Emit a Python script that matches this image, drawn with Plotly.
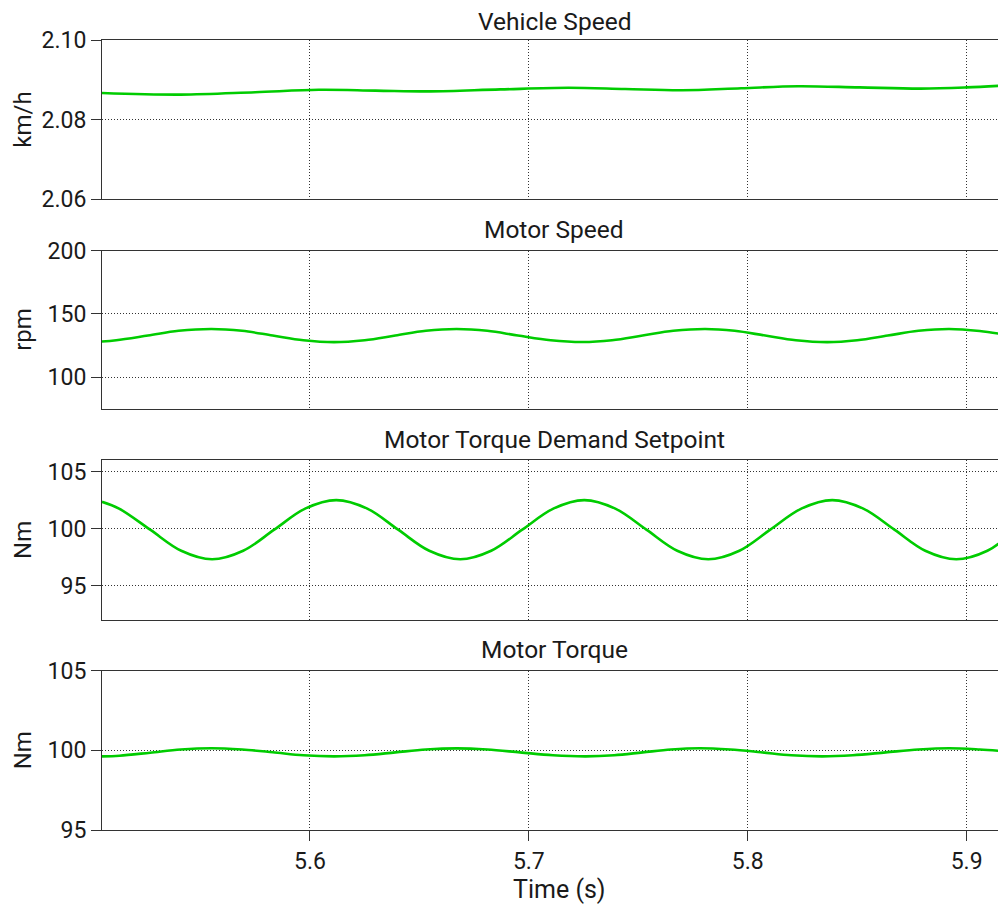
import plotly.graph_objects as go

# ---- data ----
vs_t = [5.505, 5.541, 5.575, 5.604, 5.630, 5.655, 5.687, 5.718, 5.744, 5.770, 5.797, 5.823, 5.851, 5.879, 5.900, 5.918]
vs_v = [2.0867, 2.0863, 2.0869, 2.0875, 2.0873, 2.0871, 2.0876, 2.0880, 2.0877, 2.0874, 2.0879, 2.0884, 2.0881, 2.0878, 2.0881, 2.0886]

ms_t = [5.505, 5.5115, 5.526, 5.540, 5.555, 5.569, 5.583, 5.597, 5.611, 5.625, 5.639, 5.653, 5.667,
        5.681, 5.695, 5.710, 5.7245, 5.738, 5.752, 5.766, 5.7806, 5.794, 5.808, 5.822, 5.8364,
        5.850, 5.864, 5.878, 5.892, 5.906, 5.918]
ms_v = [128.3, 129.3, 133.0, 136.7, 138.2, 136.7, 133.0, 129.3, 127.8, 129.3, 133.0, 136.7, 138.1,
        136.7, 133.0, 129.3, 127.9, 129.3, 133.0, 136.7, 138.2, 136.7, 133.0, 129.3, 127.8,
        129.3, 133.0, 136.7, 138.2, 136.6, 133.6]

td_t = [5.505, 5.5128, 5.5270, 5.5412, 5.5553, 5.5695, 5.5837, 5.5978, 5.6120, 5.6262, 5.6403,
        5.6545, 5.6687, 5.6828, 5.6970, 5.7112, 5.7253, 5.7395, 5.7537, 5.7678, 5.7820, 5.7962,
        5.8103, 5.8245, 5.8386, 5.8528, 5.8670, 5.8811, 5.8953, 5.9095, 5.918]
td_v = [102.35, 101.75, 99.9, 98.05, 97.3, 98.05, 99.9, 101.75, 102.5, 101.75, 99.9,
        98.05, 97.3, 98.05, 99.9, 101.75, 102.5, 101.75, 99.9, 98.05, 97.3, 98.05,
        99.9, 101.75, 102.5, 101.75, 99.9, 98.05, 97.3, 98.05, 99.2]

mt_t = [5.505, 5.513, 5.527, 5.541, 5.555, 5.569, 5.583, 5.597, 5.611, 5.625, 5.639, 5.653, 5.667,
        5.681, 5.696, 5.711, 5.726, 5.739, 5.752, 5.765, 5.778, 5.792, 5.806, 5.820, 5.834,
        5.848, 5.863, 5.878, 5.892, 5.906, 5.918]
mt_v = [99.62, 99.66, 99.85, 100.05, 100.13, 100.05, 99.88, 99.69, 99.62, 99.69, 99.87, 100.05, 100.12,
        100.05, 99.87, 99.69, 99.62, 99.69, 99.87, 100.05, 100.13, 100.05, 99.88, 99.69, 99.62,
        99.69, 99.87, 100.05, 100.13, 100.05, 99.93]

titles = ["Vehicle Speed", "Motor Speed", "Motor Torque Demand Setpoint", "Motor Torque"]
units = ["km/h", "rpm", "Nm", "Nm"]
y_ranges = [[2.06, 2.10], [75, 200], [92, 106], [95, 105]]
y_ticks = [[2.06, 2.08, 2.10], [100, 150, 200], [95, 100, 105], [95, 100, 105]]
y_ticktext = [["2.06", "2.08", "2.10"], ["100", "150", "200"], ["95", "100", "105"], ["95", "100", "105"]]
x_ticks = [5.6, 5.7, 5.8, 5.9]
x_range = [5.505, 5.918]
x_title = "Time (s)"

# ---- layout geometry (figure pixels) ----
W, H = 1006, 908
L, R = 94, 8
T = 32
px_domains = [(32, 191.5), (242.7, 401.3), (452.5, 612), (663, 822.5)]
B = H - px_domains[-1][1]
PH = H - T - B
PW = W - L - R
FONT = "Roboto, DejaVu Sans, sans-serif"
TXT = "#1a1a1a"
GREEN = "#00cc00"
GRID = "#333333"


def py(p):
    return 1 - (p - T) / PH


series = [(vs_t, vs_v), (ms_t, ms_v), (td_t, td_v), (mt_t, mt_v)]

fig = go.Figure()
layout = dict(
    width=W, height=H,
    margin=dict(l=L, r=R, t=T, b=B, autoexpand=False),
    paper_bgcolor="white", plot_bgcolor="white",
    showlegend=False,
    font=dict(family=FONT, size=23, color=TXT),
)
annotations = []
for i, ((t, v), (top, bot)) in enumerate(zip(series, px_domains)):
    n = "" if i == 0 else str(i + 1)
    fig.add_trace(go.Scatter(x=t, y=v, mode="lines",
                             line=dict(color=GREEN, width=2.6, shape="spline", smoothing=1.0),
                             xaxis="x" + n, yaxis="y" + n, hoverinfo="skip"))
    dom = [py(bot), py(top)]
    last = (i == 3)
    layout["xaxis" + n] = dict(
        domain=[0, 1], anchor="y" + n, range=x_range, tickvals=x_ticks,
        ticktext=[f"{x:.1f}" for x in x_ticks], automargin=False,
        showticklabels=last, ticks="outside" if last else "", ticklen=10, tickcolor="#333",
        showgrid=True, gridcolor=GRID, griddash="1px,2px", gridwidth=1,
        showline=True, linecolor="#333", linewidth=1, mirror=True, zeroline=False,
        tickfont=dict(family=FONT, size=23, color=TXT),
        **({} if i == 0 else {"matches": "x"}),
    )
    layout["yaxis" + n] = dict(
        domain=dom, anchor="x" + n, range=y_ranges[i], tickvals=y_ticks[i], ticktext=y_ticktext[i],
        ticks="outside", ticklen=10, tickcolor="#333", automargin=False,
        showgrid=True, gridcolor=GRID, griddash="1px,2px", gridwidth=1,
        showline=True, linecolor="#333", linewidth=1, mirror=False, zeroline=False,
        tickfont=dict(family=FONT, size=23, color=TXT),
    )
    annotations.append(dict(text=titles[i], xref="paper", yref="paper", x=0.5, y=dom[1],
                            xanchor="center", yanchor="bottom",
                            yshift=1.8 if i == 0 else 4.5, showarrow=False,
                            font=dict(family=FONT, size=24.5, color=TXT)))
    annotations.append(dict(text=units[i], xref="paper", yref="paper", x=(15 - L) / PW,
                            y=(dom[0] + dom[1]) / 2, xanchor="center", yanchor="middle",
                            textangle=-90, showarrow=False,
                            font=dict(family=FONT, size=24, color=TXT)))

annotations.append(dict(text=x_title, xref="paper", yref="paper", x=(551 - L) / PW,
                        y=py(882), xanchor="center", yanchor="middle", showarrow=False,
                        font=dict(family=FONT, size=25, color=TXT)))
layout["annotations"] = annotations
fig.update_layout(**layout)
fig.write_html("out.html")
